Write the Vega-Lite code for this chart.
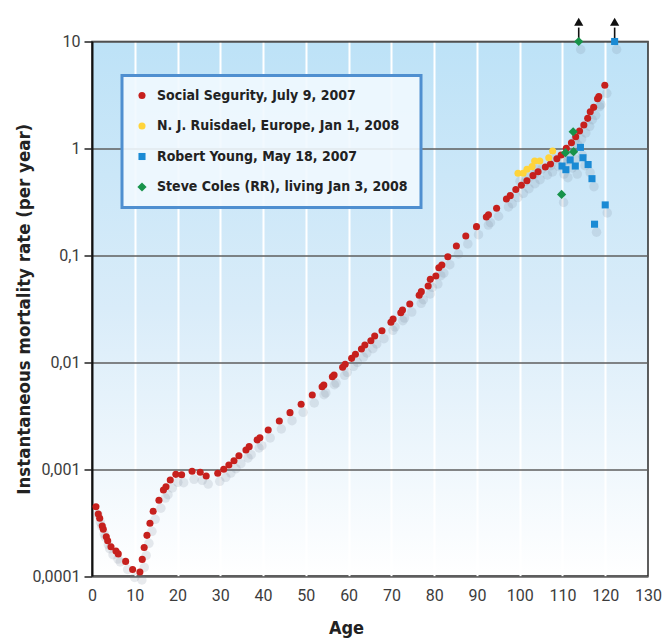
{
  "$schema": "https://vega.github.io/schema/vega-lite/v6.json",
  "width": 556,
  "height": 534.5,
  "autosize": {"type": "none"},
  "padding": {"left": 92, "top": 41.5, "right": 14, "bottom": 63},
  "background": "white",
  "config": {
    "view": {
      "fill": {"gradient": "linear", "x1": 0, "y1": 0, "x2": 0, "y2": 1,
        "stops": [{"offset": 0, "color": "#bde2f7"}, {"offset": 0.5, "color": "#d9ecf9"}, {"offset": 1, "color": "#ffffff"}]},
      "stroke": "#2a2a2a",
      "strokeWidth": 1.5
    },
    "legend": {
      "orient": "none",
      "legendX": 30,
      "legendY": 34,
      "fillColor": "rgba(241,248,254,0.9)",
      "strokeColor": "#4f8fd0",
      "strokeWidth": 3,
      "padding": 13,
      "symbolSize": 90,
      "symbolStrokeWidth": 0,
      "rowPadding": 16.5,
      "labelFont": "DejaVu Sans Condensed",
      "labelFontSize": 14,
      "labelFontWeight": "bold",
      "labelColor": "#222222",
      "labelOffset": 8,
      "labelLimit": 400
    }
  },
  "datasets": {
    "pts": [
      {"series": "Social Segurity, July 9, 2007", "age": 0.93, "rate": 0.000445},
      {"series": "Social Segurity, July 9, 2007", "age": 1.47, "rate": 0.00038},
      {"series": "Social Segurity, July 9, 2007", "age": 1.8, "rate": 0.000347},
      {"series": "Social Segurity, July 9, 2007", "age": 2.4, "rate": 0.000294},
      {"series": "Social Segurity, July 9, 2007", "age": 2.64, "rate": 0.000274},
      {"series": "Social Segurity, July 9, 2007", "age": 3.34, "rate": 0.000233},
      {"series": "Social Segurity, July 9, 2007", "age": 3.67, "rate": 0.000214},
      {"series": "Social Segurity, July 9, 2007", "age": 4.44, "rate": 0.000188},
      {"series": "Social Segurity, July 9, 2007", "age": 5.6, "rate": 0.000171},
      {"series": "Social Segurity, July 9, 2007", "age": 6.14, "rate": 0.000161},
      {"series": "Social Segurity, July 9, 2007", "age": 7.87, "rate": 0.000137},
      {"series": "Social Segurity, July 9, 2007", "age": 9.5, "rate": 0.000115},
      {"series": "Social Segurity, July 9, 2007", "age": 11.2, "rate": 0.000109},
      {"series": "Social Segurity, July 9, 2007", "age": 11.75, "rate": 0.000143},
      {"series": "Social Segurity, July 9, 2007", "age": 12.2, "rate": 0.000185},
      {"series": "Social Segurity, July 9, 2007", "age": 12.85, "rate": 0.00024},
      {"series": "Social Segurity, July 9, 2007", "age": 13.55, "rate": 0.000311},
      {"series": "Social Segurity, July 9, 2007", "age": 14.3, "rate": 0.000403},
      {"series": "Social Segurity, July 9, 2007", "age": 15.65, "rate": 0.000511},
      {"series": "Social Segurity, July 9, 2007", "age": 16.7, "rate": 0.000637},
      {"series": "Social Segurity, July 9, 2007", "age": 17.3, "rate": 0.000684},
      {"series": "Social Segurity, July 9, 2007", "age": 18.3, "rate": 0.000791},
      {"series": "Social Segurity, July 9, 2007", "age": 19.6, "rate": 0.000893},
      {"series": "Social Segurity, July 9, 2007", "age": 20.96, "rate": 0.000887},
      {"series": "Social Segurity, July 9, 2007", "age": 23.4, "rate": 0.000953},
      {"series": "Social Segurity, July 9, 2007", "age": 25.3, "rate": 0.000933},
      {"series": "Social Segurity, July 9, 2007", "age": 26.7, "rate": 0.000861},
      {"series": "Social Segurity, July 9, 2007", "age": 29.4, "rate": 0.000914},
      {"series": "Social Segurity, July 9, 2007", "age": 30.8, "rate": 0.000995},
      {"series": "Social Segurity, July 9, 2007", "age": 32.0, "rate": 0.001091},
      {"series": "Social Segurity, July 9, 2007", "age": 33.2, "rate": 0.001199},
      {"series": "Social Segurity, July 9, 2007", "age": 34.35, "rate": 0.001334},
      {"series": "Social Segurity, July 9, 2007", "age": 36.0, "rate": 0.00151},
      {"series": "Social Segurity, July 9, 2007", "age": 36.75, "rate": 0.001622},
      {"series": "Social Segurity, July 9, 2007", "age": 38.6, "rate": 0.001871},
      {"series": "Social Segurity, July 9, 2007", "age": 39.25, "rate": 0.001968},
      {"series": "Social Segurity, July 9, 2007", "age": 41.2, "rate": 0.002323},
      {"series": "Social Segurity, July 9, 2007", "age": 43.8, "rate": 0.002818},
      {"series": "Social Segurity, July 9, 2007", "age": 46.3, "rate": 0.003373},
      {"series": "Social Segurity, July 9, 2007", "age": 48.9, "rate": 0.004036},
      {"series": "Social Segurity, July 9, 2007", "age": 51.5, "rate": 0.004932},
      {"series": "Social Segurity, July 9, 2007", "age": 53.8, "rate": 0.005902},
      {"series": "Social Segurity, July 9, 2007", "age": 54.2, "rate": 0.006124},
      {"series": "Social Segurity, July 9, 2007", "age": 56.2, "rate": 0.007311},
      {"series": "Social Segurity, July 9, 2007", "age": 56.6, "rate": 0.007586},
      {"series": "Social Segurity, July 9, 2007", "age": 58.6, "rate": 0.008954},
      {"series": "Social Segurity, July 9, 2007", "age": 59.2, "rate": 0.00955},
      {"series": "Social Segurity, July 9, 2007", "age": 60.7, "rate": 0.01086},
      {"series": "Social Segurity, July 9, 2007", "age": 61.6, "rate": 0.01186},
      {"series": "Social Segurity, July 9, 2007", "age": 63.0, "rate": 0.01327},
      {"series": "Social Segurity, July 9, 2007", "age": 63.8, "rate": 0.01449},
      {"series": "Social Segurity, July 9, 2007", "age": 65.2, "rate": 0.01589},
      {"series": "Social Segurity, July 9, 2007", "age": 66.1, "rate": 0.01758},
      {"series": "Social Segurity, July 9, 2007", "age": 67.8, "rate": 0.01972},
      {"series": "Social Segurity, July 9, 2007", "age": 69.9, "rate": 0.0236},
      {"series": "Social Segurity, July 9, 2007", "age": 70.4, "rate": 0.02535},
      {"series": "Social Segurity, July 9, 2007", "age": 72.2, "rate": 0.02904},
      {"series": "Social Segurity, July 9, 2007", "age": 72.6, "rate": 0.03076},
      {"series": "Social Segurity, July 9, 2007", "age": 74.3, "rate": 0.03499},
      {"series": "Social Segurity, July 9, 2007", "age": 76.5, "rate": 0.04227},
      {"series": "Social Segurity, July 9, 2007", "age": 77.0, "rate": 0.04571},
      {"series": "Social Segurity, July 9, 2007", "age": 78.6, "rate": 0.05164},
      {"series": "Social Segurity, July 9, 2007", "age": 79.1, "rate": 0.05957},
      {"series": "Social Segurity, July 9, 2007", "age": 80.4, "rate": 0.06397},
      {"series": "Social Segurity, July 9, 2007", "age": 81.1, "rate": 0.07656},
      {"series": "Social Segurity, July 9, 2007", "age": 81.8, "rate": 0.0811},
      {"series": "Social Segurity, July 9, 2007", "age": 83.2, "rate": 0.09705},
      {"series": "Social Segurity, July 9, 2007", "age": 85.2, "rate": 0.1222},
      {"series": "Social Segurity, July 9, 2007", "age": 87.4, "rate": 0.1517},
      {"series": "Social Segurity, July 9, 2007", "age": 89.9, "rate": 0.1854},
      {"series": "Social Segurity, July 9, 2007", "age": 92.2, "rate": 0.228},
      {"series": "Social Segurity, July 9, 2007", "age": 92.7, "rate": 0.2399},
      {"series": "Social Segurity, July 9, 2007", "age": 94.6, "rate": 0.2754},
      {"series": "Social Segurity, July 9, 2007", "age": 96.9, "rate": 0.3365},
      {"series": "Social Segurity, July 9, 2007", "age": 97.8, "rate": 0.3614},
      {"series": "Social Segurity, July 9, 2007", "age": 99.1, "rate": 0.412},
      {"series": "Social Segurity, July 9, 2007", "age": 100.4, "rate": 0.4519},
      {"series": "Social Segurity, July 9, 2007", "age": 101.7, "rate": 0.4989},
      {"series": "Social Segurity, July 9, 2007", "age": 103.1, "rate": 0.5559},
      {"series": "Social Segurity, July 9, 2007", "age": 104.3, "rate": 0.6053},
      {"series": "Social Segurity, July 9, 2007", "age": 106.0, "rate": 0.6699},
      {"series": "Social Segurity, July 9, 2007", "age": 107.2, "rate": 0.7145},
      {"series": "Social Segurity, July 9, 2007", "age": 108.7, "rate": 0.8017},
      {"series": "Social Segurity, July 9, 2007", "age": 109.7, "rate": 0.867},
      {"series": "Social Segurity, July 9, 2007", "age": 110.9, "rate": 1.002},
      {"series": "Social Segurity, July 9, 2007", "age": 112.1, "rate": 1.13},
      {"series": "Social Segurity, July 9, 2007", "age": 113.1, "rate": 1.285},
      {"series": "Social Segurity, July 9, 2007", "age": 114.0, "rate": 1.455},
      {"series": "Social Segurity, July 9, 2007", "age": 115.0, "rate": 1.656},
      {"series": "Social Segurity, July 9, 2007", "age": 115.9, "rate": 1.91},
      {"series": "Social Segurity, July 9, 2007", "age": 116.5, "rate": 2.203},
      {"series": "Social Segurity, July 9, 2007", "age": 117.3, "rate": 2.421},
      {"series": "Social Segurity, July 9, 2007", "age": 118.2, "rate": 2.917},
      {"series": "Social Segurity, July 9, 2007", "age": 118.5, "rate": 3.048},
      {"series": "Social Segurity, July 9, 2007", "age": 119.9, "rate": 3.89},
      {"series": "N. J. Ruisdael, Europe, Jan 1, 2008", "age": 99.6, "rate": 0.585},
      {"series": "N. J. Ruisdael, Europe, Jan 1, 2008", "age": 100.8, "rate": 0.585},
      {"series": "N. J. Ruisdael, Europe, Jan 1, 2008", "age": 101.7, "rate": 0.637},
      {"series": "N. J. Ruisdael, Europe, Jan 1, 2008", "age": 102.9, "rate": 0.675},
      {"series": "N. J. Ruisdael, Europe, Jan 1, 2008", "age": 103.5, "rate": 0.762},
      {"series": "N. J. Ruisdael, Europe, Jan 1, 2008", "age": 104.7, "rate": 0.762},
      {"series": "N. J. Ruisdael, Europe, Jan 1, 2008", "age": 106.8, "rate": 0.818},
      {"series": "N. J. Ruisdael, Europe, Jan 1, 2008", "age": 107.7, "rate": 0.946},
      {"series": "Robert Young, May 18, 2007", "age": 109.9, "rate": 0.684},
      {"series": "Robert Young, May 18, 2007", "age": 110.8, "rate": 0.632},
      {"series": "Robert Young, May 18, 2007", "age": 111.8, "rate": 0.78},
      {"series": "Robert Young, May 18, 2007", "age": 113.0, "rate": 0.684},
      {"series": "Robert Young, May 18, 2007", "age": 114.2, "rate": 1.023},
      {"series": "Robert Young, May 18, 2007", "age": 114.8, "rate": 0.818},
      {"series": "Robert Young, May 18, 2007", "age": 116.0, "rate": 0.706},
      {"series": "Robert Young, May 18, 2007", "age": 116.9, "rate": 0.521},
      {"series": "Robert Young, May 18, 2007", "age": 117.5, "rate": 0.1954},
      {"series": "Robert Young, May 18, 2007", "age": 120.0, "rate": 0.296},
      {"series": "Robert Young, May 18, 2007", "age": 122.2, "rate": 10},
      {"series": "Steve Coles (RR), living Jan 3, 2008", "age": 109.8, "rate": 0.371},
      {"series": "Steve Coles (RR), living Jan 3, 2008", "age": 110.7, "rate": 0.912},
      {"series": "Steve Coles (RR), living Jan 3, 2008", "age": 112.6, "rate": 0.931},
      {"series": "Steve Coles (RR), living Jan 3, 2008", "age": 112.5, "rate": 1.432},
      {"series": "Steve Coles (RR), living Jan 3, 2008", "age": 113.8, "rate": 10}
    ],
    "arrows": [
      {"age": 113.8, "from": 10, "to": 13.5, "head": 15.3},
      {"age": 122.2, "from": 10, "to": 13.5, "head": 15.3}
    ]
  },
  "encoding": {
    "x": {"field": "age", "type": "quantitative", "scale": {"domain": [0, 130], "nice": false, "zero": false},
      "axis": {
        "values": [0, 10, 20, 30, 40, 50, 60, 70, 80, 90, 100, 110, 120, 130],
        "grid": true,
        "gridColor": {"condition": {"test": "datum.value == 0 || datum.value == 130", "value": "transparent"}, "value": "#ffffff"},
        "gridWidth": 2,
        "ticks": false,
        "domain": false,
        "labelFlush": false,
        "labelOverlap": false,
        "labelFont": "Roboto",
        "labelFontSize": 16,
        "labelColor": "#3c3c3c",
        "labelPadding": 11,
        "title": "Age",
        "titleFont": "DejaVu Sans Condensed",
        "titleFontSize": 18,
        "titleFontWeight": "bold",
        "titleColor": "#222222",
        "titleX": 254,
        "titleY": 57,
        "titleBaseline": "alphabetic"
      }
    },
    "y": {"field": "rate", "type": "quantitative", "scale": {"type": "log", "domain": [0.0001, 10], "nice": false},
      "axis": {
        "values": [0.0001, 0.001, 0.01, 0.1, 1, 10],
        "labelExpr": "replace(toString(datum.value), '.', ',')",
        "labelFlush": false,
        "grid": true,
        "gridColor": "#5e5e5e",
        "gridWidth": 1.5,
        "tickSize": 8,
        "tickColor": "#222222",
        "tickWidth": 1.5,
        "domainColor": "#111111",
        "domainWidth": 2,
        "labelFont": "Roboto",
        "labelFontSize": 16,
        "labelColor": "#3c3c3c",
        "labelPadding": 4,
        "title": "Instantaneous mortality rate (per year)",
        "titleFont": "DejaVu Sans Condensed",
        "titleFontSize": 18.5,
        "titleFontWeight": "bold",
        "titleColor": "#222222",
        "titleX": -63,
        "titleBaseline": "alphabetic"
      }
    }
  },
  "layer": [
    {
      "data": {"name": "pts"},
      "mark": {"type": "circle", "color": "#6f7f90", "opacity": 0.16, "size": 90, "xOffset": 2, "yOffset": 8}
    },
    {
      "data": {"name": "arrows"},
      "mark": {"type": "rule", "color": "#111111", "strokeWidth": 1.6},
      "encoding": {"y": {"field": "from", "type": "quantitative"}, "y2": {"field": "to"}}
    },
    {
      "data": {"name": "arrows"},
      "mark": {"type": "point", "shape": "triangle-up", "filled": true, "color": "#111111", "size": 85, "opacity": 1},
      "encoding": {"y": {"field": "head", "type": "quantitative"}}
    },
    {
      "data": {"name": "pts"},
      "mark": {"type": "point", "filled": true, "opacity": 1, "strokeWidth": 0},
      "encoding": {
        "color": {"field": "series", "type": "nominal",
          "scale": {"domain": ["Social Segurity, July 9, 2007", "N. J. Ruisdael, Europe, Jan 1, 2008", "Robert Young, May 18, 2007", "Steve Coles (RR), living Jan 3, 2008"],
            "range": ["#c6201d", "#ffd43b", "#1a8ad4", "#17934a"]},
          "legend": {"title": null}
        },
        "shape": {"field": "series", "type": "nominal",
          "scale": {"domain": ["Social Segurity, July 9, 2007", "N. J. Ruisdael, Europe, Jan 1, 2008", "Robert Young, May 18, 2007", "Steve Coles (RR), living Jan 3, 2008"],
            "range": ["circle", "circle", "square", "M0,-1.3L1.3,0L0,1.3L-1.3,0Z"]},
          "legend": {"title": null}
        },
        "size": {"field": "series", "type": "nominal",
          "scale": {"domain": ["Social Segurity, July 9, 2007", "N. J. Ruisdael, Europe, Jan 1, 2008", "Robert Young, May 18, 2007", "Steve Coles (RR), living Jan 3, 2008"],
            "range": [50, 50, 62, 45]},
          "legend": null
        }
      }
    }
  ]
}
